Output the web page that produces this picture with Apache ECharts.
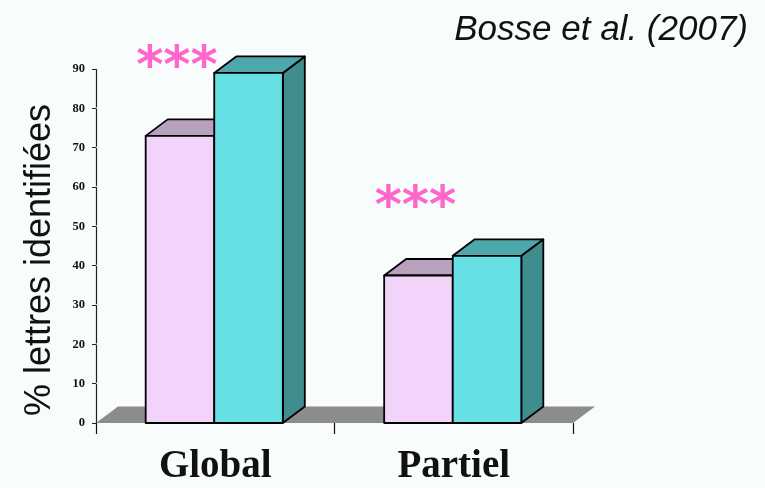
<!DOCTYPE html>
<html>
<head>
<meta charset="utf-8">
<script src="https://cdn.jsdelivr.net/npm/echarts@6/dist/echarts.min.js"></script>
<style>
  html, body { margin: 0; padding: 0; background: #f8fcfd; }
  #chart { width: 765px; height: 488px; }
</style>
</head>
<body>
<div id="chart"></div>
<script>
// Percentage of letters identified, per presentation condition
const categories = ['Global', 'Partiel'];
const pinkValues = [73, 37.5];
const cyanValues = [89, 42.5];
const significance = ['***', '***'];
const yTicks = [0, 10, 20, 30, 40, 50, 60, 70, 80, 90];

// Oblique projection used for the pseudo-3D look
const DX = 22, DY = -16.5;
const BAR_FRAC = 0.2875;

const pinkStyle = { front: '#f2d3f9', top: '#b8a1bd', side: '#a88fad' };
const cyanStyle = { front: '#66e0e4', top: '#4ea8ab', side: '#3f8d8c' };

function prism(x0, x1, yTop, yBase, c) {
  const edge = { stroke: '#000', lineWidth: 1.8, lineJoin: 'round' };
  return [
    { type: 'polygon', shape: { points: [[x1, yTop], [x1 + DX, yTop + DY], [x1 + DX, yBase + DY], [x1, yBase]] },
      style: Object.assign({ fill: c.side }, edge) },
    { type: 'polygon', shape: { points: [[x0, yTop], [x0 + DX, yTop + DY], [x1 + DX, yTop + DY], [x1, yTop]] },
      style: Object.assign({ fill: c.top }, edge) },
    { type: 'polygon', shape: { points: [[x0, yTop], [x1, yTop], [x1, yBase], [x0, yBase]] },
      style: Object.assign({ fill: c.front }, edge) }
  ];
}

function barRenderer(side, colors, marks) {
  return function (params, api) {
    const cat = api.value(0), val = api.value(1);
    const base = api.coord([cat, 0]);
    const top = api.coord([cat, val]);
    const w = api.size([1, 0])[0] * BAR_FRAC;
    const cx = base[0] - 1;
    const x0 = side < 0 ? cx - w : cx;
    const x1 = x0 + w;
    const children = prism(x0, x1, top[1], base[1], colors);
    if (marks) {
      children.push({
        type: 'text',
        style: {
          text: marks[params.dataIndex], x: x0 + w / 2 - 3, y: top[1] - 67,
          fill: '#ff66cc', font: 'bold 52px "DejaVu Sans"', align: 'center', verticalAlign: 'middle'
        }
      });
    }
    return { type: 'group', children: children };
  };
}

function floorRenderer(params, api) {
  const cs = params.coordSys;
  const yb = cs.y + cs.height;
  const xl = cs.x, xr = cs.x + cs.width;
  const children = [];
  const wall = { stroke: '#ffffff', lineWidth: 1, fill: 'none' };
  yTicks.forEach(function (t) {
    const y = api.coord([0, t])[1];
    if (t > 0) {
      children.push({ type: 'polyline', shape: { points: [[xl, y], [xl + DX, y + DY], [xr + DX, y + DY]] }, style: wall });
    }
  });
  children.push({ type: 'line', shape: { x1: xl + DX, y1: yb + DY, x2: xl + DX, y2: cs.y + DY }, style: wall });
  children.push({
    type: 'polygon',
    shape: { points: [[xl, yb], [xr, yb], [xr + DX, yb + DY], [xl + DX, yb + DY]] },
    style: { fill: '#8c8c8c' }
  });
  return { type: 'group', children: children };
}

const chart = echarts.init(document.getElementById('chart'), null, { renderer: 'canvas' });
chart.setOption({
  backgroundColor: '#f8fcfd',
  animation: false,
  grid: { left: 96, right: 192, top: 69, bottom: 65 },
  xAxis: {
    type: 'category',
    data: categories,
    axisLine: { show: false },
    axisTick: { show: true, length: 11, lineStyle: { color: '#111', width: 1.2 } },
    axisLabel: {
      margin: 24, color: '#111',
      fontFamily: '"Liberation Serif", serif', fontWeight: 'bold', fontSize: 39
    }
  },
  yAxis: {
    type: 'value', min: 0, max: 90, interval: 10,
    axisLine: { show: true, lineStyle: { color: '#222', width: 1.2 } },
    axisTick: { show: true, length: 4, lineStyle: { color: '#222' } },
    splitLine: { show: false },
    axisLabel: {
      margin: 11, color: '#111',
      fontFamily: '"Liberation Serif", serif', fontWeight: 'bold', fontSize: 12.5
    }
  },
  graphic: [
    { type: 'text', style: { text: 'Bosse et al. (2007)', x: 748, y: 30, align: 'right', verticalAlign: 'middle',
        font: 'italic 35px "Liberation Sans", Arial, sans-serif', fill: '#111' } },
    { type: 'text', rotation: Math.PI / 2, x: 40, y: 260,
      style: { text: '% lettres identifiées', x: 0, y: 0, align: 'center', verticalAlign: 'middle',
        font: '36px "Liberation Sans", Arial, sans-serif', fill: '#111' } }
  ],
  series: [
    { type: 'custom', renderItem: floorRenderer, data: [[0, 0]], encode: { x: 0, y: 1 }, silent: true, z: 1 },
    { type: 'custom', renderItem: barRenderer(-1, pinkStyle, significance),
      data: pinkValues.map(function (v, i) { return [i, v]; }), encode: { x: 0, y: 1 }, z: 2 },
    { type: 'custom', renderItem: barRenderer(1, cyanStyle, null),
      data: cyanValues.map(function (v, i) { return [i, v]; }), encode: { x: 0, y: 1 }, z: 2 }
  ]
});
</script>
</body>
</html>
